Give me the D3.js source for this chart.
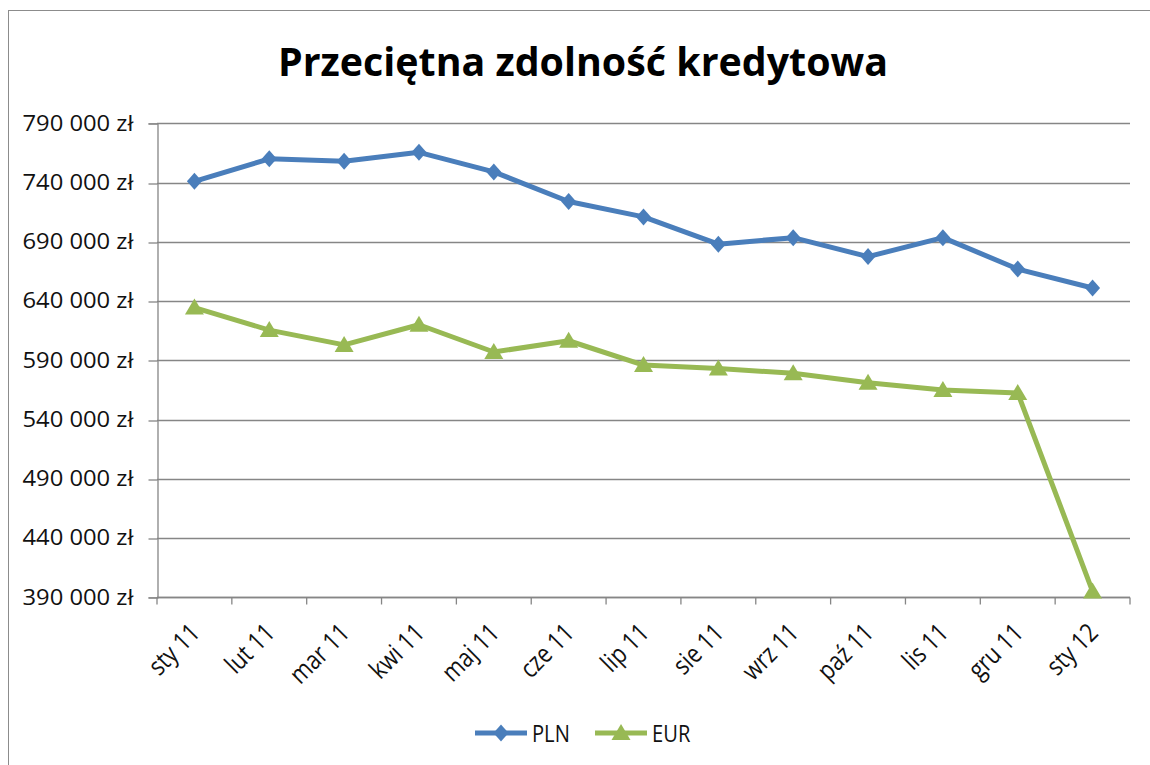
<!DOCTYPE html>
<html>
<head>
<meta charset="utf-8">
<script src="https://cdn.jsdelivr.net/npm/d3@7"></script>
<style>
  body { margin: 0; background: #fff; }
  svg { display: block; }
</style>
</head>
<body>
<svg id="chart" width="1150" height="765"></svg>
<script>
// data
const months = ['sty 11', 'lut 11', 'mar 11', 'kwi 11', 'maj 11', 'cze 11', 'lip 11',
  'sie 11', 'wrz 11', 'paź 11', 'lis 11', 'gru 11', 'sty 12'];
const pln = [741000, 760000, 758000, 765500, 749000, 724000, 711000, 688000, 693500, 677500, 693500, 667000, 651000];
const eur = [634500, 615500, 603000, 620000, 597000, 606500, 586000, 583000, 579000, 571000, 565000, 562500, 395000];
const yTicks = [390000, 440000, 490000, 540000, 590000, 640000, 690000, 740000, 790000];

const series = [
  { name: 'PLN', values: pln, color: '#4a7ebb', marker: 'diamond' },
  { name: 'EUR', values: eur, color: '#98b954', marker: 'triangle' }
];

const svg = d3.select('#chart');
const plotLeft = 157, plotRight = 1130, plotTop = 123.3, plotBottom = 597.3;
const gridColor = '#868686';

// outer frame
svg.append('rect')
  .attr('x', 8.5).attr('y', 10.5)
  .attr('width', 1150).attr('height', 760)
  .attr('fill', '#fff').attr('stroke', '#8c8c8c').attr('stroke-width', 1);

svg.append('text')
  .attr('x', 583).attr('y', 76)
  .attr('text-anchor', 'middle')
  .style('font-family', 'Open Sans')
  .style('font-weight', 700)
  .style('font-size', '39px')
  .attr('textLength', 610)
  .attr('lengthAdjust', 'spacingAndGlyphs')
  .text('Przeciętna zdolność kredytowa');

const x = d3.scaleBand().domain(months).range([plotLeft, plotRight]);
const y = d3.scaleLinear().domain([390000, 790000]).range([plotBottom, plotTop]);

const fmt = v => d3.format(',')(v).replace(/,/g, ' ') + ' zł';
const snap = v => Math.round(v) + 0.5;

// gridlines
svg.append('g')
  .selectAll('line')
  .data(yTicks)
  .join('line')
  .attr('x1', plotLeft).attr('x2', plotRight)
  .attr('y1', d => snap(y(d))).attr('y2', d => snap(y(d)))
  .attr('stroke', gridColor).attr('stroke-width', 1.3);

// y axis
const yAxis = svg.append('g')
  .attr('transform', `translate(${plotLeft + 0.5},0)`)
  .call(d3.axisLeft(y).tickValues(yTicks).tickFormat(fmt).tickSize(9).tickPadding(15));
yAxis.select('.domain').attr('stroke', gridColor).attr('stroke-width', 1.3);
yAxis.selectAll('.tick line').attr('stroke', gridColor).attr('stroke-width', 1.3)
  .attr('transform', d => `translate(0,${snap(y(d)) - y(d)})`);
yAxis.selectAll('.tick text')
  .style('font-family', 'Open Sans')
  .style('font-size', '21px')
  .attr('fill', '#111')
  .attr('textLength', 111)
  .attr('lengthAdjust', 'spacingAndGlyphs');

// x axis with ticks at category boundaries
const xg = svg.append('g').attr('transform', `translate(0,${snap(plotBottom)})`);
xg.append('line').attr('x1', plotLeft).attr('x2', plotRight).attr('stroke', gridColor).attr('stroke-width', 1.3);
const bounds = months.map(m => x(m)).concat([plotRight]);
xg.selectAll('.tk').data(bounds).join('line')
  .attr('x1', d => d).attr('x2', d => d)
  .attr('y1', 0).attr('y2', 7)
  .attr('stroke', gridColor).attr('stroke-width', 1.3);
xg.selectAll('.lbl').data(months).join('text')
  .attr('transform', d => `translate(${x(d) + x.bandwidth() / 2 + 7},37) rotate(-45) scale(0.84,1)`)
  .attr('text-anchor', 'end')
  .style('font-family', 'Open Sans')
  .style('font-size', '26px')
  .attr('fill', '#111')
  .text(d => d);

const cx = i => x(months[i]) + x.bandwidth() / 2;

const line = d3.line()
  .x((d, i) => cx(i))
  .y(d => y(d));

const diamond = 'M0,-8.5L7.5,0L0,8.5L-7.5,0Z';
const triangle = 'M0,-9L9.5,7L-9.5,7Z';

series.forEach(s => {
  svg.append('path')
    .datum(s.values)
    .attr('d', line)
    .attr('fill', 'none')
    .attr('stroke', s.color)
    .attr('stroke-width', 5)
    .attr('stroke-linejoin', 'round');

  svg.append('g').selectAll('path')
    .data(s.values)
    .join('path')
    .attr('transform', (d, i) => `translate(${cx(i)},${y(d)})`)
    .attr('d', s.marker === 'diamond' ? diamond : triangle)
    .attr('fill', s.color);
});

// legend
const legend = svg.append('g').attr('transform', 'translate(0,733)');
const legendX = [475, 595];
series.forEach((s, i) => {
  const lx = legendX[i];
  legend.append('line')
    .attr('x1', lx).attr('x2', lx + 52)
    .attr('y1', 0).attr('y2', 0)
    .attr('stroke', s.color).attr('stroke-width', 5);
  legend.append('path')
    .attr('transform', `translate(${lx + 26},0)`)
    .attr('d', s.marker === 'diamond' ? diamond : triangle)
    .attr('fill', s.color);
  legend.append('text')
    .attr('x', 0).attr('y', 0).attr('dy', '0.36em')
    .attr('transform', `translate(${lx + 57},0) scale(0.84,1)`)
    .style('font-family', 'Open Sans')
    .style('font-size', '24px')
    .attr('fill', '#111')
    .text(s.name);
});
</script>
</body>
</html>
